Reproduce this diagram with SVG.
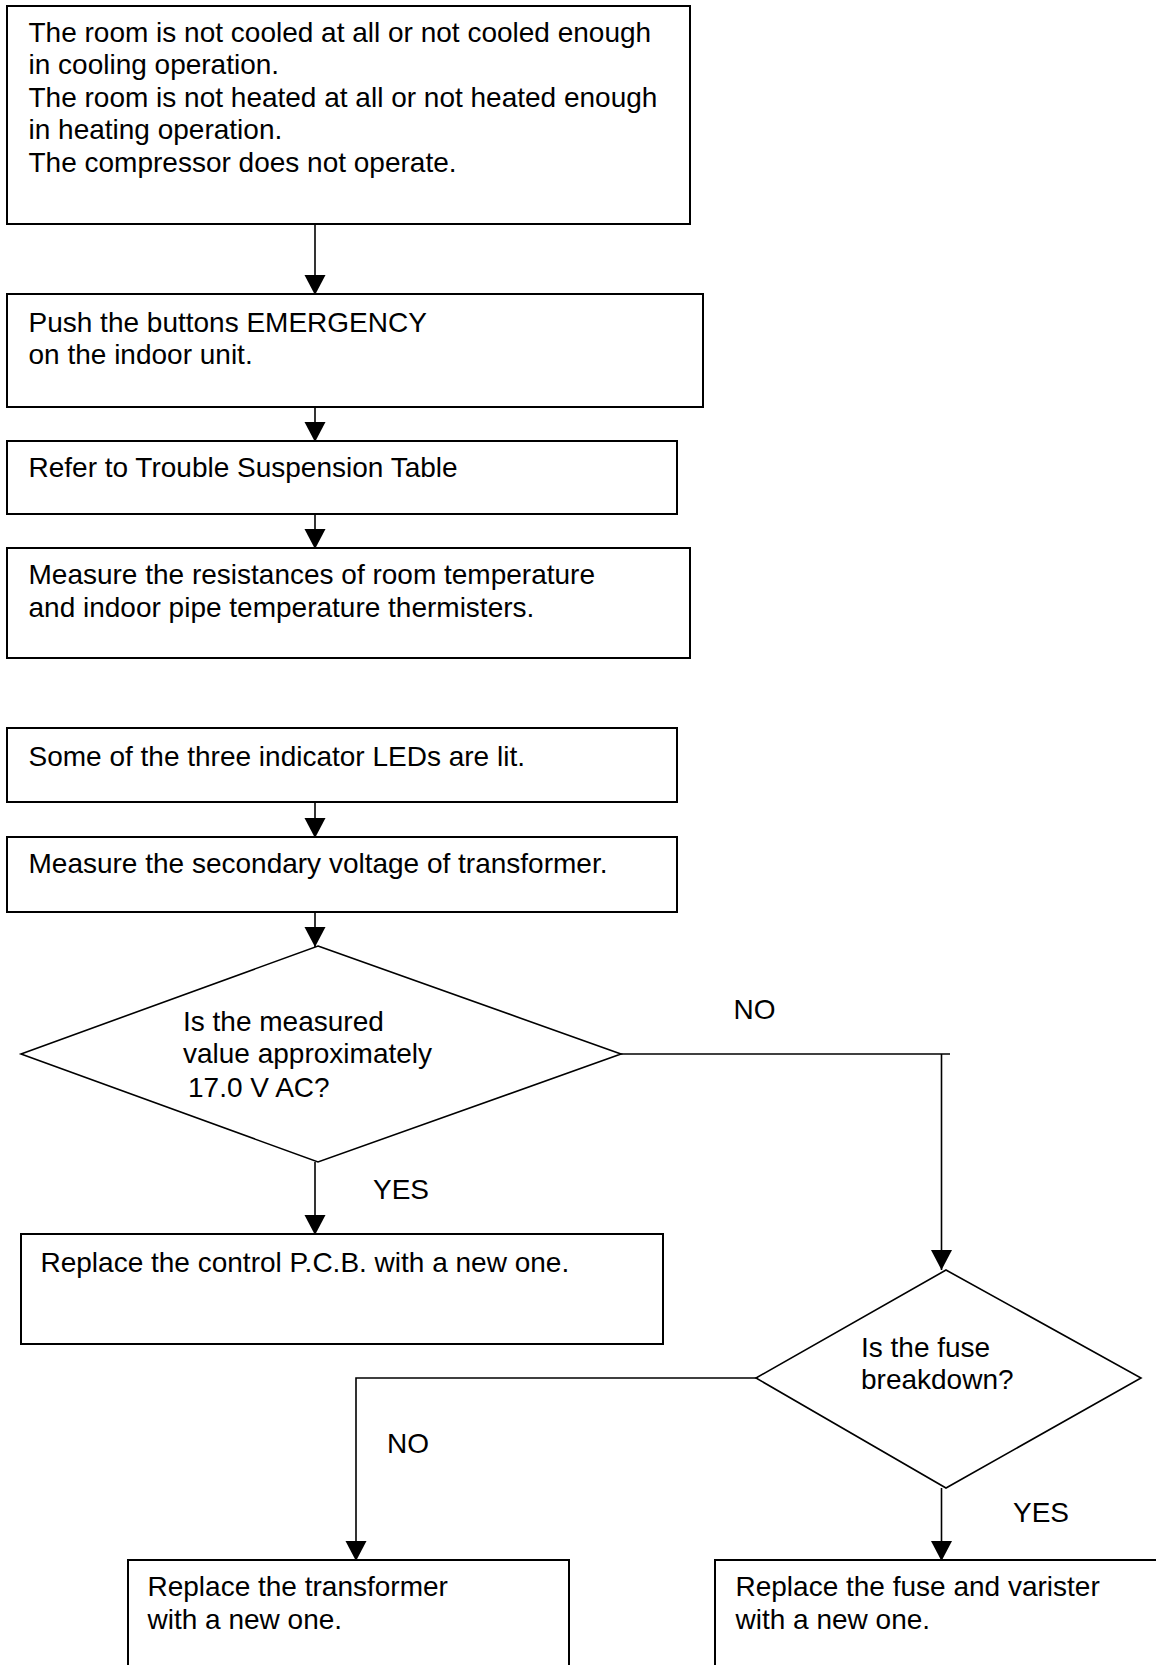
<svg xmlns="http://www.w3.org/2000/svg" width="1156" height="1665" viewBox="0 0 1156 1665">
<style>
.box{fill:#fff;stroke:#000;stroke-width:2}
.dia{fill:#fff;stroke:#000;stroke-width:1.6}
.t{font-family:"Liberation Sans",Arial,sans-serif;font-size:28px;fill:#000}
.c{fill:none;stroke:#000;stroke-width:1.6}
</style>
<defs>
<marker id="ah" markerUnits="userSpaceOnUse" markerWidth="22" markerHeight="22" refX="20" refY="10.5" orient="auto">
<path d="M0,0 L20,10.5 L0,21 z" fill="#000"/>
</marker>
</defs>
<rect width="1156" height="1665" fill="#fff"/>
<g id="n1"><rect class="box" x="7" y="6" width="683" height="218"/>
<text class="t" x="28.5" y="41.5">The room is not cooled at all or not cooled enough</text>
<text class="t" x="28.5" y="74">in cooling operation.</text>
<text class="t" x="28.5" y="106.5">The room is not heated at all or not heated enough</text>
<text class="t" x="28.5" y="139">in heating operation.</text>
<text class="t" x="28.5" y="171.5">The compressor does not operate.</text></g>
<g id="n2"><rect class="box" x="7" y="294" width="696" height="113"/>
<text class="t" x="28.5" y="331.5">Push the buttons EMERGENCY</text>
<text class="t" x="28.5" y="364">on the indoor unit.</text></g>
<g id="n3"><rect class="box" x="7" y="441" width="670" height="73"/>
<text class="t" x="28.5" y="476.5">Refer to Trouble Suspension Table</text></g>
<g id="n4"><rect class="box" x="7" y="548" width="683" height="110"/>
<text class="t" x="28.5" y="584">Measure the resistances of room temperature</text>
<text class="t" x="28.5" y="616.5">and indoor pipe temperature thermisters.</text></g>
<g id="n5"><rect class="box" x="7" y="728" width="670" height="74"/>
<text class="t" x="28.5" y="766">Some of the three indicator LEDs are lit.</text></g>
<g id="n6"><rect class="box" x="7" y="837" width="670" height="75"/>
<text class="t" x="28.5" y="873">Measure the secondary voltage of transformer.</text></g>
<g id="d1"><polygon class="dia" points="318,946 621,1054 318,1162 21,1054"/>
<text class="t" x="183" y="1030.5">Is the measured</text>
<text class="t" x="183" y="1063">value approximately</text>
<text class="t" x="188" y="1096.5">17.0 V AC?</text></g>
<g id="n7"><rect class="box" x="21" y="1234" width="642" height="110"/>
<text class="t" x="40.5" y="1272">Replace the control P.C.B. with a new one.</text></g>
<g id="d2"><polygon class="dia" points="946,1270 1141,1378 946,1488 756,1378"/>
<text class="t" x="861" y="1357">Is the fuse</text>
<text class="t" x="861" y="1389">breakdown?</text></g>
<g id="n8"><rect class="box" x="128" y="1560" width="441" height="130"/>
<text class="t" x="147.5" y="1596">Replace the transformer</text>
<text class="t" x="147.5" y="1628.5">with a new one.</text></g>
<g id="n9"><rect class="box" x="715" y="1560" width="460" height="130"/>
<text class="t" x="735.5" y="1596">Replace the fuse and varister</text>
<text class="t" x="735.5" y="1628.5">with a new one.</text></g>
<g id="connectors">
<line class="c" x1="315" y1="224" x2="315" y2="295" marker-end="url(#ah)"/>
<line class="c" x1="315" y1="407" x2="315" y2="442" marker-end="url(#ah)"/>
<line class="c" x1="315" y1="514" x2="315" y2="549" marker-end="url(#ah)"/>
<line class="c" x1="315" y1="802" x2="315" y2="838" marker-end="url(#ah)"/>
<line class="c" x1="315" y1="912" x2="315" y2="947" marker-end="url(#ah)"/>
<line class="c" x1="315" y1="1162" x2="315" y2="1235" marker-end="url(#ah)"/>
<polyline class="c" points="621,1054 950,1054"/>
<line class="c" x1="941.5" y1="1054" x2="941.5" y2="1270" marker-end="url(#ah)"/>
<polyline class="c" points="756,1378 356,1378 356,1561" marker-end="url(#ah)"/>
<line class="c" x1="941.5" y1="1488" x2="941.5" y2="1561" marker-end="url(#ah)"/>
<text class="t" x="733.5" y="1018.5">NO</text>
<text class="t" x="373" y="1198.5">YES</text>
<text class="t" x="387" y="1452.5">NO</text>
<text class="t" x="1013" y="1522">YES</text>
</g>
</svg>
